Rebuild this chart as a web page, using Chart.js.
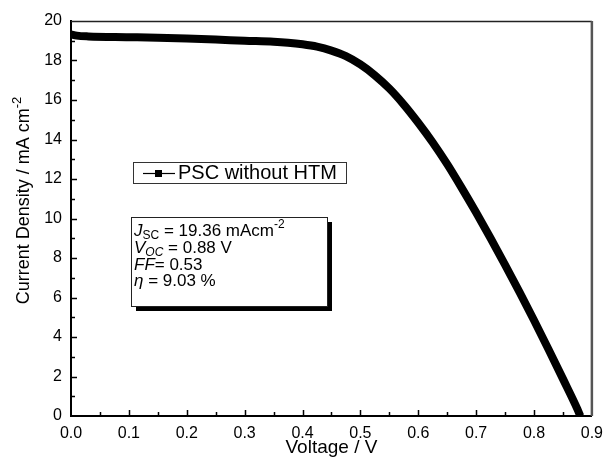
<!DOCTYPE html>
<html>
<head>
<meta charset="utf-8">
<script src="https://cdn.jsdelivr.net/npm/chart.js@4.4.0/dist/chart.umd.min.js"></script>
<style>
  html, body { margin: 0; padding: 0; background: #fff; }
  #wrap { width: 611px; height: 459px; }
</style>
</head>
<body>
<div id="wrap"><canvas id="myChart" width="611" height="459"></canvas></div>
<script>
//data
const voltage = [0, 0.01, 0.03, 0.1, 0.15, 0.2, 0.25, 0.3, 0.35, 0.375, 0.4, 0.425, 0.45, 0.475, 0.5,
  0.525, 0.55, 0.575, 0.6, 0.625, 0.65, 0.675, 0.7, 0.725, 0.75, 0.775, 0.8, 0.825, 0.85, 0.875, 0.88];
const currentDensity = [19.32, 19.26, 19.22, 19.18, 19.15, 19.11, 19.06, 19.0, 18.95, 18.9, 18.82, 18.7, 18.5, 18.22, 17.8,
  17.25, 16.58, 15.77, 14.85, 13.85, 12.75, 11.55, 10.3, 9.0, 7.65, 6.27, 4.85, 3.38, 1.88, 0.35, 0];
const seriesLabel = "PSC without HTM";
const paramLines = [
  ["J", "SC", " = 19.36 mAcm", "-2"],
  ["V", "OC", " = 0.88 V", ""],
  ["FF", "", "= 0.53", ""],
  ["\u03b7", "", " = 9.03 %", ""],
];
const FONT = "'Liberation Sans', Arial, sans-serif";

const points = voltage.map((v, i) => ({ x: v, y: currentDensity[i] }));

//custom drawing: inner ticks, frame, legend, parameter box, y title
const decorations = {
  id: "decorations",
  afterDraw(chart) {
    const ctx = chart.ctx;
    const a = chart.chartArea;
    const xs = chart.scales.x, ys = chart.scales.y;
    ctx.save();
    ctx.strokeStyle = "#000";
    ctx.lineWidth = 1.5;
    ctx.beginPath();
    for (let k = 1; k < 20; k++) {
      const y = Math.round(ys.getPixelForValue(k)) + 0.5;
      const len = k % 2 === 0 ? 6 : 4;
      ctx.moveTo(a.left, y); ctx.lineTo(a.left + len, y);
    }
    for (let k = 1; k < 18; k++) {
      const x = Math.round(xs.getPixelForValue(k * 0.05)) + 0.5;
      const len = k % 2 === 0 ? 6 : 4;
      ctx.moveTo(x, a.bottom); ctx.lineTo(x, a.bottom - len);
    }
    ctx.stroke();

    //top and right frame
    ctx.lineWidth = 1.5;
    ctx.strokeStyle = "#222";
    ctx.beginPath();
    ctx.moveTo(a.left, a.top + 0.5); ctx.lineTo(a.right, a.top + 0.5);
    ctx.stroke();
    ctx.lineWidth = 2.5;
    ctx.strokeStyle = "#555";
    ctx.beginPath();
    ctx.moveTo(a.right, a.top); ctx.lineTo(a.right, a.bottom);
    ctx.stroke();

    //legend box
    const lx = a.left + 62, ly = a.top + 141, lw = 213, lh = 21;
    ctx.lineWidth = 1;
    ctx.strokeStyle = "#333";
    ctx.fillStyle = "#fff";
    ctx.fillRect(lx, ly, lw, lh);
    ctx.strokeRect(lx + 0.5, ly + 0.5, lw, lh);
    const cy = ly + lh / 2 + 1;
    ctx.strokeStyle = "#000";
    ctx.lineWidth = 1.2;
    ctx.beginPath();
    ctx.moveTo(lx + 10, cy); ctx.lineTo(lx + 42, cy);
    ctx.stroke();
    ctx.fillStyle = "#000";
    ctx.fillRect(lx + 22, cy - 3.5, 7, 7);
    ctx.font = "20px " + FONT;
    ctx.textBaseline = "middle";
    ctx.textAlign = "left";
    ctx.fillText(seriesLabel, lx + 45, cy);

    //parameter box with shadow
    const bx = a.left + 60, by = a.top + 196, bw = 196, bh = 89;
    ctx.fillStyle = "#000";
    ctx.fillRect(bx + 5, by + 5, bw, bh);
    ctx.fillStyle = "#fff";
    ctx.fillRect(bx, by, bw, bh);
    ctx.strokeStyle = "#222";
    ctx.lineWidth = 1;
    ctx.strokeRect(bx + 0.5, by + 0.5, bw, bh);
    ctx.fillStyle = "#000";
    ctx.textBaseline = "alphabetic";
    paramLines.forEach((ln, i) => {
      let x = bx + 3;
      const base = by + 19 + i * 16.8;
      ctx.font = "italic 17px " + FONT;
      ctx.fillText(ln[0], x, base);
      x += ctx.measureText(ln[0]).width;
      if (ln[1]) {
        ctx.font = (i === 1 ? "italic " : "") + "12px " + FONT;
        ctx.fillText(ln[1], x, base + 3);
        x += ctx.measureText(ln[1]).width;
      }
      ctx.font = "17px " + FONT;
      ctx.fillText(ln[2], x, base);
      x += ctx.measureText(ln[2]).width;
      if (ln[3]) {
        ctx.font = "12px " + FONT;
        ctx.fillText(ln[3], x, base - 8);
      }
    });

    //y axis title with superscript
    ctx.translate(24, (a.top + a.bottom) / 2 - 18);
    ctx.rotate(-Math.PI / 2);
    ctx.font = "18px " + FONT;
    const main = "Current Density / mA cm";
    const wMain = ctx.measureText(main).width;
    ctx.font = "13px " + FONT;
    const wSup = ctx.measureText("-2").width;
    const start = -(wMain + wSup) / 2;
    ctx.textBaseline = "middle";
    ctx.font = "18px " + FONT;
    ctx.fillText(main, start, 0);
    ctx.font = "13px " + FONT;
    ctx.fillText("-2", start + wMain, -7);
    ctx.restore();
  }
};

const config = {
  type: "line",
  data: {
    datasets: [
      {
        label: seriesLabel,
        data: points,
        borderColor: "#000",
        backgroundColor: "#000",
        borderWidth: 8,
        pointRadius: 0,
        fill: false,
        cubicInterpolationMode: "monotone",
        borderCapStyle: "butt",
      },
    ],
  },
  options: {
    responsive: false,
    animation: false,
    layout: { padding: { left: 0, right: 11, top: 21, bottom: 0 } },
    plugins: {
      legend: { display: false },
      tooltip: { enabled: false },
    },
    scales: {
      x: {
        type: "linear",
        min: 0,
        max: 0.9,
        grid: { display: false, drawTicks: false },
        border: { display: true, color: "#000", width: 2 },
        ticks: {
          stepSize: 0.1,
          padding: 8,
          color: "#000",
          font: { family: FONT, size: 16 },
          maxRotation: 0,
          callback: (v) => v.toFixed(1),
        },
        title: {
          display: true,
          text: "Voltage / V",
          color: "#000",
          font: { family: FONT, size: 19 },
          padding: { top: 5, bottom: 0 },
        },
        afterFit: (s) => { s.height = 43; },
      },
      y: {
        min: 0,
        max: 20,
        grid: { display: false, drawTicks: false },
        border: { display: true, color: "#000", width: 2 },
        ticks: {
          stepSize: 2,
          padding: 9,
          color: "#000",
          font: { family: FONT, size: 16 },
        },
        afterFit: (s) => { s.width = 71; },
      },
    },
  },
  plugins: [decorations],
};

const myChart = new Chart(document.getElementById("myChart"), config);
</script>
</body>
</html>
